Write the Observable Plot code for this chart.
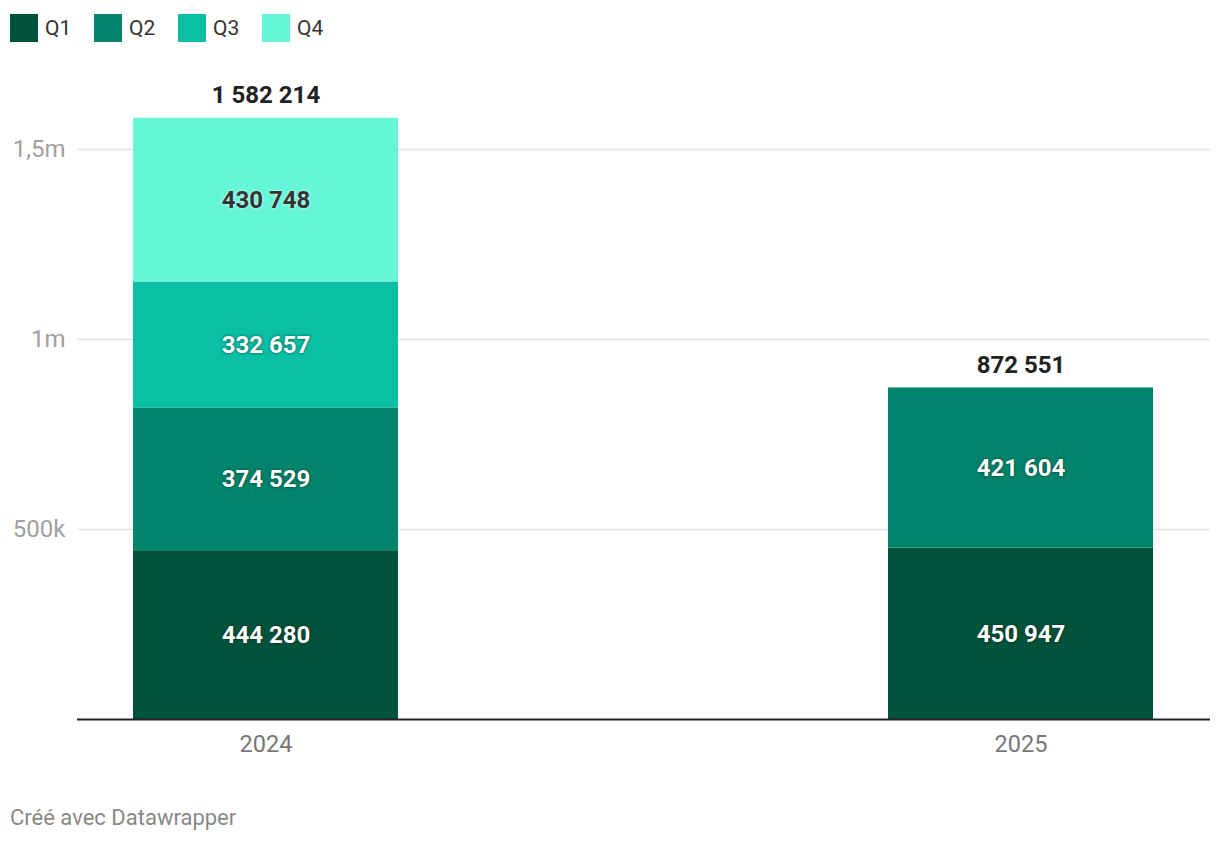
<!DOCTYPE html>
<html>
<head>
<meta charset="utf-8">
<script src="https://cdn.jsdelivr.net/npm/d3@7"></script>
<script src="https://cdn.jsdelivr.net/npm/@observablehq/plot@0.6"></script>
<style>
  body { margin: 0; background: #fff; font-family: Roboto, sans-serif; }
  #legend { height: 51px; position: relative; }
  .sw { position: absolute; top: 14px; display: flex; align-items: center; }
  .sw span.box { width: 28px; height: 28px; display: inline-block; }
  .sw span.lab { font-size: 21px; color: #333; margin-left: 7px; line-height: 28px; }
  #footer { font-size: 22px; line-height: 26px; color: #888; margin: 34px 0 0 10px; }
  .inlab-light text, .inlab-light { text-shadow: 0 0 3px rgba(0,0,0,0.6); }
  .inlab-dark text, .inlab-dark { text-shadow: 0 0 3px rgba(255,255,255,0.9); }
</style>
</head>
<body>
<div id="legend"></div>
<div id="chart"></div>
<div id="footer">Créé avec Datawrapper</div>
<script>
const years = ["2024", "2025"];
const quarters = ["Q1", "Q2", "Q3", "Q4"];
const colors = ["#00533b", "#00846b", "#0abfa3", "#65f6d8"];
const values2024 = [444280, 374529, 332657, 430748];
const values2025 = [450947, 421604];
const yTicks = [500000, 1000000, 1500000];
const yTickLabels = ["500k", "1m", "1,5m"];

const fmt = v => d3.format(",")(v).replace(/,/g, " ");

const series = [values2024, values2025];
const data = [];
years.forEach((yr, i) => {
  let cum = 0;
  series[i].forEach((v, q) => {
    data.push({year: yr, quarter: quarters[q], value: v, y1: cum, y2: cum + v, mid: cum + v / 2});
    cum += v;
  });
});
const totals = years.map((yr, i) => ({year: yr, total: d3.sum(series[i])}));

// legend
const leg = document.getElementById("legend");
quarters.forEach((q, i) => {
  const d = document.createElement("div");
  d.className = "sw";
  d.style.left = (10 + i * 84) + "px";
  d.innerHTML = `<span class="box" style="background:${colors[i]}"></span><span class="lab">${q}</span>`;
  leg.appendChild(d);
});

const chart = Plot.plot({
  width: 1220,
  height: 720,
  marginTop: 22,
  marginBottom: 52,
  marginLeft: 77,
  marginRight: 10,
  style: {fontFamily: "Roboto, sans-serif", background: "transparent"},
  x: {domain: years, paddingInner: 0.649, paddingOuter: 0.074, label: null, tickSize: 0, tickPadding: 16},
  y: {domain: [0, 1700000], label: null},
  color: {domain: quarters, range: colors},
  marks: [
    Plot.ruleY(yTicks, {stroke: "#e3e3e3", strokeWidth: 1.3}),
    Plot.axisY(yTicks, {tickSize: 0, tickPadding: 12, fontSize: 24, fill: "#a0a0a0", tickFormat: (d) => yTickLabels[yTicks.indexOf(d)], label: null}),
    Plot.axisX({tickSize: 0, tickPadding: 16, fontSize: 23.5, fill: "#777", label: null}),
    Plot.rectY(data, {x: "year", y1: "y1", y2: "y2", fill: "quarter"}),
    Plot.ruleY([0], {stroke: "#222", strokeWidth: 2}),
    Plot.text(data.filter(d => d.quarter !== "Q4"), {x: "year", y: "mid", text: d => fmt(d.value), fill: "#fff", fontSize: 24, fontWeight: "bold", className: "inlab-light"}),
    Plot.text(data.filter(d => d.quarter === "Q4"), {x: "year", y: "mid", text: d => fmt(d.value), fill: "#333", fontSize: 24, fontWeight: "bold", className: "inlab-dark"}),
    Plot.text(totals, {x: "year", y: "total", text: d => fmt(d.total), fill: "#222", fontSize: 24, fontWeight: "bold", dy: -23})
  ]
});
document.getElementById("chart").appendChild(chart);
</script>
</body>
</html>
